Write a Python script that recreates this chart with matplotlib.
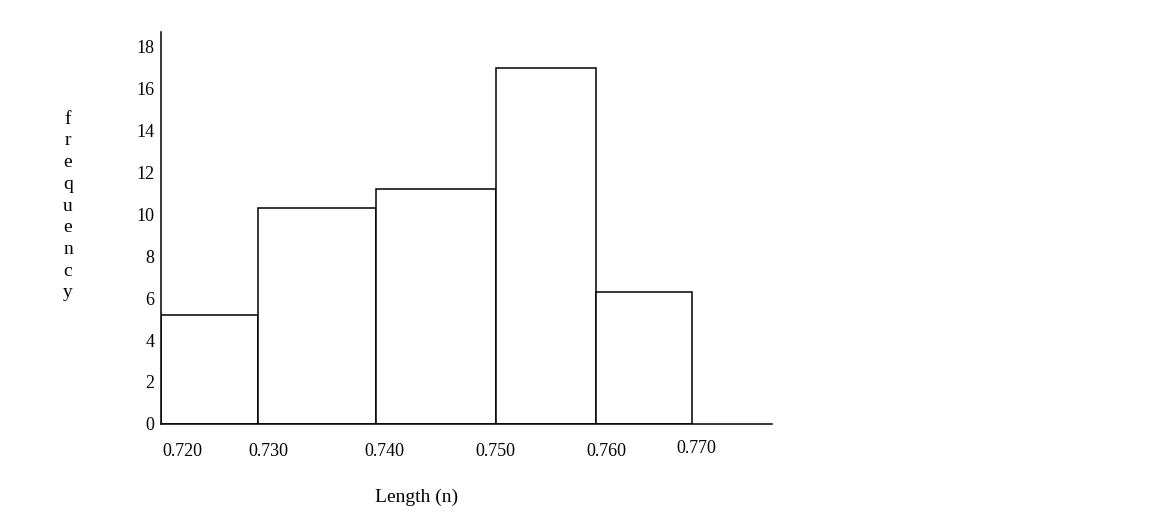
import numpy as np
import matplotlib.pyplot as plt

# bin edges as drawn (the hand-drawn boxes are not evenly spaced)
bin_edges = [0.7200, 0.7291, 0.7402, 0.7515, 0.7609, 0.7700]
frequencies = [5.2, 10.3, 11.2, 16.95, 6.3]

x_tick_pos = [0.7220, 0.7301, 0.7410, 0.7515, 0.7619, 0.7704]
x_tick_labels = ["0.720", "0.730", "0.740", "0.750", "0.760", "0.770"]
y_ticks = [0, 2, 4, 6, 8, 10, 12, 14, 16, 18]

plt.rcParams["font.family"] = ["Liberation Serif", "DejaVu Serif"]

fig = plt.figure(figsize=(11.76, 5.21), dpi=100)
ax = fig.add_axes([0.1369, 0.1862, 0.5196, 0.7524])

edges = np.array(bin_edges)
ax.bar(edges[:-1], frequencies, width=np.diff(edges), align="edge",
       color="white", edgecolor="black", linewidth=1.1, zorder=2)

ax.set_xlim(0.7200, 0.7775)
ax.set_ylim(0, 18.67)

for side in ["top", "right"]:
    ax.spines[side].set_visible(False)
for side in ["left", "bottom"]:
    ax.spines[side].set_linewidth(1.1)
    ax.spines[side].set_zorder(3)

ax.set_yticks(y_ticks)
ax.set_yticklabels([str(v) for v in y_ticks])
ax.tick_params(axis="y", length=0, pad=4.5, labelsize=13)

ax.set_xticks(x_tick_pos)
ax.set_xticklabels(x_tick_labels)
ax.tick_params(axis="x", length=0, pad=13.5, labelsize=13)
ax.get_xticklabels()[-1].set_y(0.007)

fig.text(0.0578, 0.6046, "\n".join("frequency"), ha="center", va="center",
         fontsize=14, linespacing=1.36)
fig.text(0.3546, 0.046, "Length (n)", ha="center", va="center", fontsize=14)

fig.savefig("out.png", dpi=100, facecolor="white")
